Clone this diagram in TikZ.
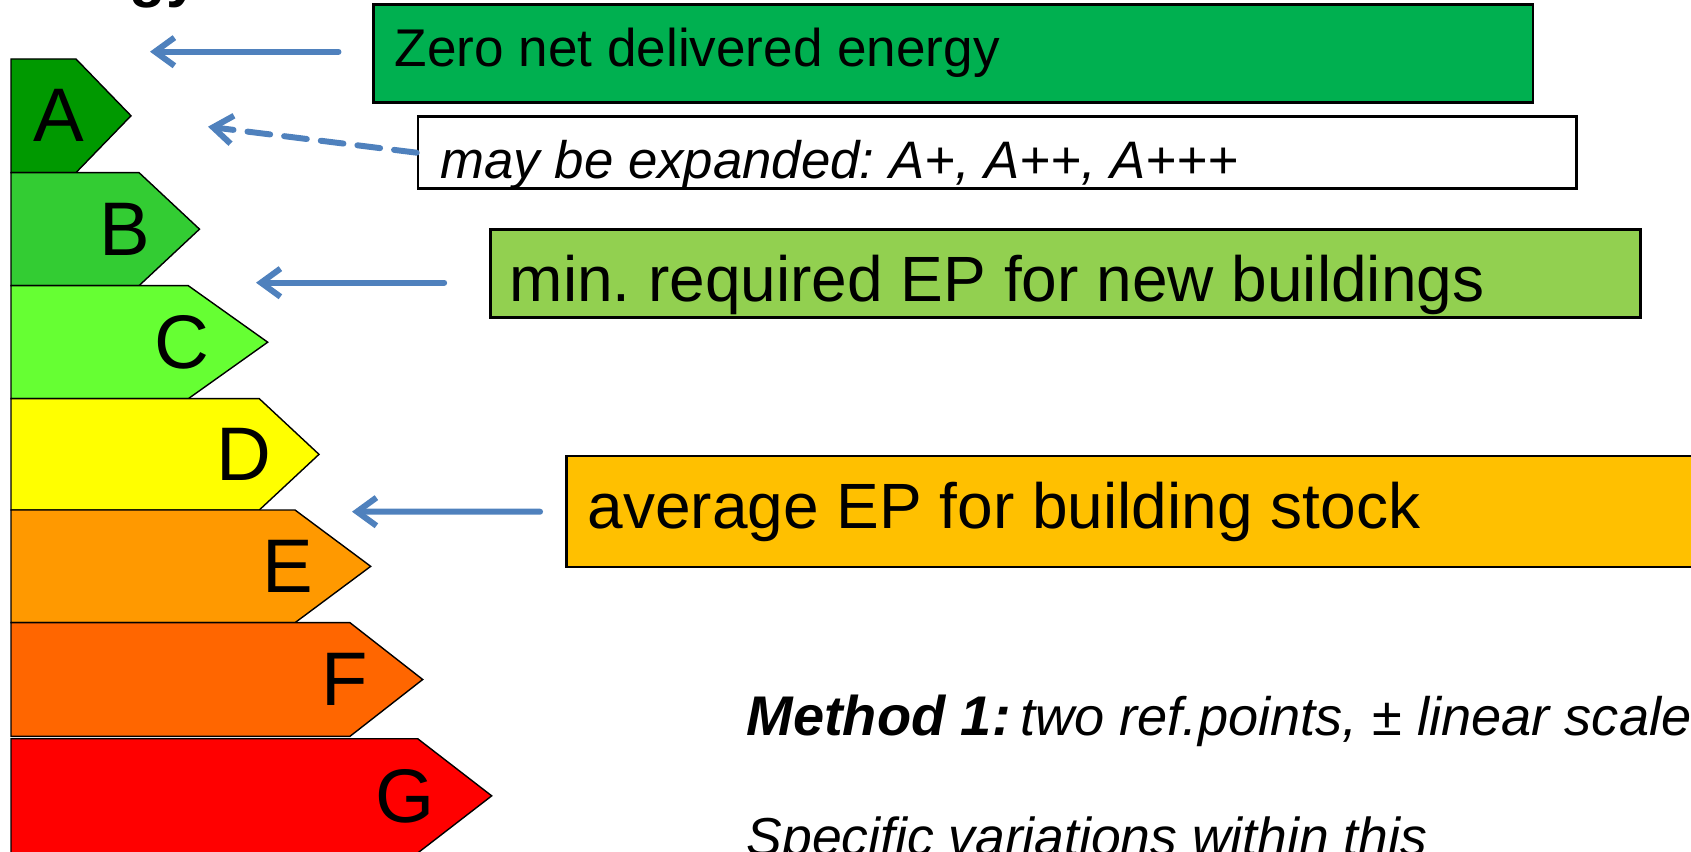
\documentclass[tikz,border=0pt]{standalone}
\usepackage{fontspec}
\setmainfont{Liberation Sans}
\usetikzlibrary{arrows.meta}
\frenchspacing
\definecolor{gradeA}{RGB}{0,153,0}
\definecolor{gradeB}{RGB}{51,204,51}
\definecolor{gradeC}{RGB}{102,255,51}
\definecolor{gradeD}{RGB}{255,255,0}
\definecolor{gradeE}{RGB}{255,153,0}
\definecolor{gradeF}{RGB}{255,102,0}
\definecolor{gradeG}{RGB}{255,0,0}
\definecolor{zerogreen}{RGB}{0,176,80}
\definecolor{newgreen}{RGB}{146,208,80}
\definecolor{stockorange}{RGB}{255,192,0}
\definecolor{arrowblue}{RGB}{79,129,189}
\tikzstyle{band}=[draw=black,line width=0.4pt]
\tikzstyle{grade}=[font=\fontsize{21.6}{24}\selectfont,inner sep=0pt]
\tikzstyle{infobox}=[draw=black,line width=0.7pt,inner sep=0pt]
\tikzstyle{infotext}=[anchor=base west,inner sep=0pt]
\tikzstyle{pointer}=[draw=arrowblue,line width=1.7pt,line cap=round,-{Straight Barb[length=5.5pt,width=8pt]}]

\begin{document}
\begin{tikzpicture}[x=0.01cm,y=-0.01cm]
    \useasboundingbox (0,0) rectangle (1691,852);
    % titre (coupe en haut)
    \node[anchor=base east,inner sep=0pt,font=\fontsize{17}{20}\selectfont\bfseries] (title) at (200,-4) {Energy};
    % classes
    \foreach \top/\bot/\sh/\tip/\col/\name/\lx in {59/172.6/76/131/gradeA/A/59, 172.6/285.7/139/199.5/gradeB/B/125, 285.7/398.7/188.3/267.7/gradeC/C/181.7, 398.7/510/259.3/319/gradeD/D/244, 510/622.7/295/370.7/gradeE/E/288, 622.7/736.3/350/422.7/gradeF/F/345, 738.7/853/417.7/491.7/gradeG/G/405}
    {
        \draw[band,fill=\col] (11,\top) -- (\sh,\top) -- (\tip,{(\top+\bot)/2}) -- (\sh,\bot) -- (11,\bot) -- cycle;
        \node[grade] (\name) at (\lx,{(\top+\bot)/2}) {\name};
    }
    % boites
    \node[infobox,fill=zerogreen,minimum width=11.587cm,minimum height=0.98cm] (zero) at (953.4,53.7) {};
    \node[infobox,fill=white,minimum width=11.58cm,minimum height=0.72cm] (plus) at (997.3,152.7) {};
    \node[infobox,fill=newgreen,minimum width=11.493cm,minimum height=0.884cm] (new) at (1065.4,273.5) {};
    \node[infobox,fill=stockorange,minimum width=11.733cm,minimum height=1.107cm] (stock) at (1153.3,511.4) {};
    % textes
    \node[infotext,font=\fontsize{15.1}{18}\selectfont] (zerotxt) at (394,66.7) {Zero net delivered energy};
    \node[infotext,font=\fontsize{15}{18}\selectfont\itshape] (plustxt) at (440,178.3) {may be expanded: A+, A++, A+++};
    \node[infotext,font=\fontsize{18.2}{21}\selectfont] (newtxt) at (509,301.7) {min. required EP for new buildings};
    \node[infotext,font=\fontsize{18.2}{21}\selectfont] (stocktxt) at (587,528.3) {average EP for building stock};
    \node[infotext,font=\fontsize{15.4}{19}\selectfont\itshape] (method) at (746,735) {{\fontsize{15.9}{19}\selectfont\bfseries Method 1:}\hspace{-1.5pt} two ref.points, ± linear scale};
    \node[infotext,font=\fontsize{15.2}{19}\selectfont\itshape] (specific) at (746,855) {Specific variations within this};
    % fleches
    \coordinate (tipzero) at (150,51.7);
    \coordinate (tipplus) at (208,126.7);
    \coordinate (tipnew) at (256,282.7);
    \coordinate (tipstock) at (352,511.7);
    \draw[pointer] ([shift={(-34,-2)}]zero.west) -- (tipzero);
    \draw[pointer,dash pattern=on 6.5pt off 4pt] (plus.west) -- (tipplus);
    \draw[pointer] ([shift={(-45,9.2)}]new.west) -- (tipnew);
    \draw[pointer] ([shift={(-25,0.3)}]stock.west) -- (tipstock);
\end{tikzpicture}
\end{document}
